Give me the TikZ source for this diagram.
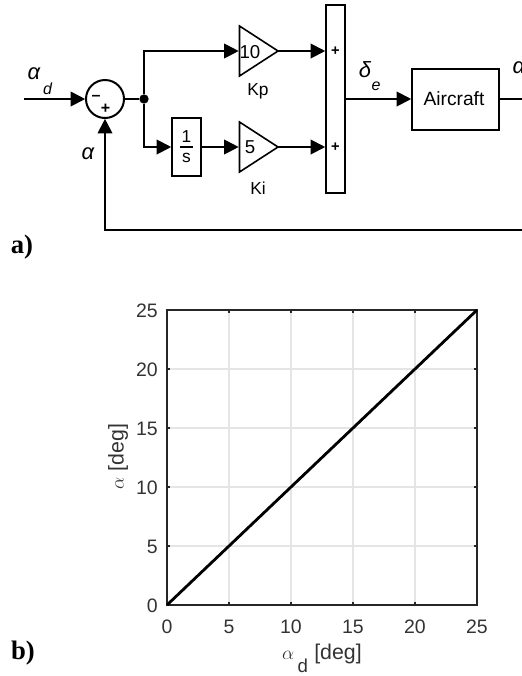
\documentclass[tikz,border=0pt]{standalone}
\usepackage{fontspec}
\setmainfont{Liberation Sans}
\newfontfamily\serifbold{Liberation Serif}
\usetikzlibrary{arrows.meta,shapes.geometric}
\tikzset{
  wire/.style={line width=1.5pt,draw=black,-{Triangle[length=11pt,width=11pt]},shorten >=0.6pt},
  plain/.style={line width=1.5pt,draw=black},
  blockbox/.style={draw=black,line width=1.4pt,fill=white,inner sep=0pt,outer sep=0pt},
  gain/.style={draw=black,line width=1.2pt,fill=white,isosceles triangle,isosceles triangle stretches,
     minimum height=28.9pt,minimum width=37.5pt,inner sep=0pt,outer sep=0pt,anchor=lower side},
  txt/.style={font=\fontsize{13}{15}\selectfont,inner sep=0pt},
  sig/.style={font=\fontsize{16.5}{18}\selectfont\itshape,inner sep=0pt},
  sub/.style={font=\fontsize{12}{14}\selectfont\itshape,inner sep=0pt},
  panel/.style={font=\fontsize{20}{22}\selectfont\serifbold\bfseries,inner sep=0pt},
  tick/.style={font=\fontsize{14.6}{16}\selectfont,inner sep=0pt,text=black!80},
  axlab/.style={font=\fontsize{14.4}{17}\selectfont,inner sep=0pt,text=black!80},
  gridline/.style={draw=black!10,line width=0.9pt},
  axisline/.style={draw=black!85,line width=1.1pt},
}
\begin{document}
\begin{tikzpicture}[x=0.75pt,y=-0.75pt]
\useasboundingbox (0,0) rectangle (522,676);
\fill[white] (0,0) rectangle (522,676);
% --- block diagram
\coordinate (in) at (24,99);
\coordinate (outend) at (522,99);
\coordinate (fbr) at (522,230);
\coordinate (fbl) at (105,230);
\node[circle,draw=black,line width=1.5pt,minimum size=28.5pt,inner sep=0pt,outer sep=0pt] (sum) at (105,99) {};
\node[inner sep=0pt,font=\fontsize{12}{14}\selectfont\bfseries] (sminus) at (96,98) {--};
\node[inner sep=0pt,font=\fontsize{12}{14}\selectfont\bfseries] (splus) at (105.5,109) {+};
\node[circle,fill=black,minimum size=7pt,inner sep=0pt,outer sep=0pt] (junc) at (144,99) {};
\node[gain] (tp) at (239.5,51) {};
\node[gain] (ti) at (239.5,147) {};
\node[blockbox,minimum width=21.7pt,minimum height=43.5pt] (int) at (186.5,147) {};
\node[txt] (intn) at (186.5,137) {1};
\node[txt] (intd) at (186.5,158) {s};
\draw[line width=1pt] (180,147) -- (193,147);
\node[blockbox,minimum width=14.2pt,minimum height=141pt] (bar) at (335.5,99) {};
\node[inner sep=0pt,font=\fontsize{11}{13}\selectfont\bfseries] (bp1) at (335.5,51) {+};
\node[inner sep=0pt,font=\fontsize{11}{13}\selectfont\bfseries] (bp2) at (335.5,147) {+};
\node[blockbox,minimum width=65.2pt,minimum height=46pt] (ac) at (455.5,99.5) {};
\node[inner sep=0pt,font=\fontsize{14.4}{16}\selectfont] (aclab) at (454,99) {Aircraft};
\draw[wire] (in) -- (sum);
\draw[plain] (sum) -- (junc);
\draw[wire] (junc) |- (tp.lower side);
\draw[wire] (junc) |- (int.west);
\draw[wire] (int.east) -- (ti.lower side);
\draw[wire] (tp.apex) -- (tp.apex -| bar.west);
\draw[wire] (ti.apex) -- (ti.apex -| bar.west);
\draw[wire] (bar.east |- in) -- (ac.west |- in);
\draw[plain] (ac.east |- in) -- (outend);
\draw[wire,line join=miter] (fbr) -- (fbl) -- (sum.south);
\node[txt,font=\fontsize{14}{15}\selectfont] (g1) at (250,52) {10};
\node[txt,font=\fontsize{14}{15}\selectfont] (g2) at (250,147) {5};
\node[txt] (kp) at (258,91) {Kp};
\node[txt] (ki) at (258,188) {Ki};
\node[sig] (ad) at (34,74) {α};
\node[sub] (adsub) at (47.5,89) {d};
\node[sig] (afb) at (88,154) {α};
\node[sig] (de) at (365,70) {δ};
\node[sub] (desub) at (376,86) {e};
\node[sig] (aout) at (519,68) {α};
\node[panel] (pa) at (22,247) {a)};
% --- plot
\foreach \v in {5,10,15,20}{
  \draw[gridline] ({167+\v*12.4},310) -- ({167+\v*12.4},605);
  \draw[gridline] (167,{605-\v*11.8}) -- (477,{605-\v*11.8});
}
\foreach \v in {0,5,...,25}{
  \draw[axisline] ({167+\v*12.4},605) -- ({167+\v*12.4},602);
  \draw[axisline] ({167+\v*12.4},310) -- ({167+\v*12.4},313);
  \draw[axisline] (167,{605-\v*11.8}) -- (170,{605-\v*11.8});
  \draw[axisline] (477,{605-\v*11.8}) -- (474,{605-\v*11.8});
  \node[tick] (xt\v) at ({167+\v*12.4},627) {\v};
  \node[tick,anchor=east] (yt\v) at (158,{606-\v*11.8}) {\v};
}
\draw[axisline] (167,310) rectangle (477,605);
\draw[line width=2.1pt,black] (167,605) -- (477,310);
\node[axlab] (xl) at (322,658) {$\alpha$\,\raisebox{-1.3ex}{\fontsize{14}{15}\selectfont d}\,\,\fontsize{16}{17}\selectfont [deg]};
\node[axlab,rotate=90] (yl) at (118,457) {$\alpha$\,\,\fontsize{16}{17}\selectfont [deg]};
\node[panel] (pb) at (23,653) {b)};
\end{tikzpicture}
\end{document}
